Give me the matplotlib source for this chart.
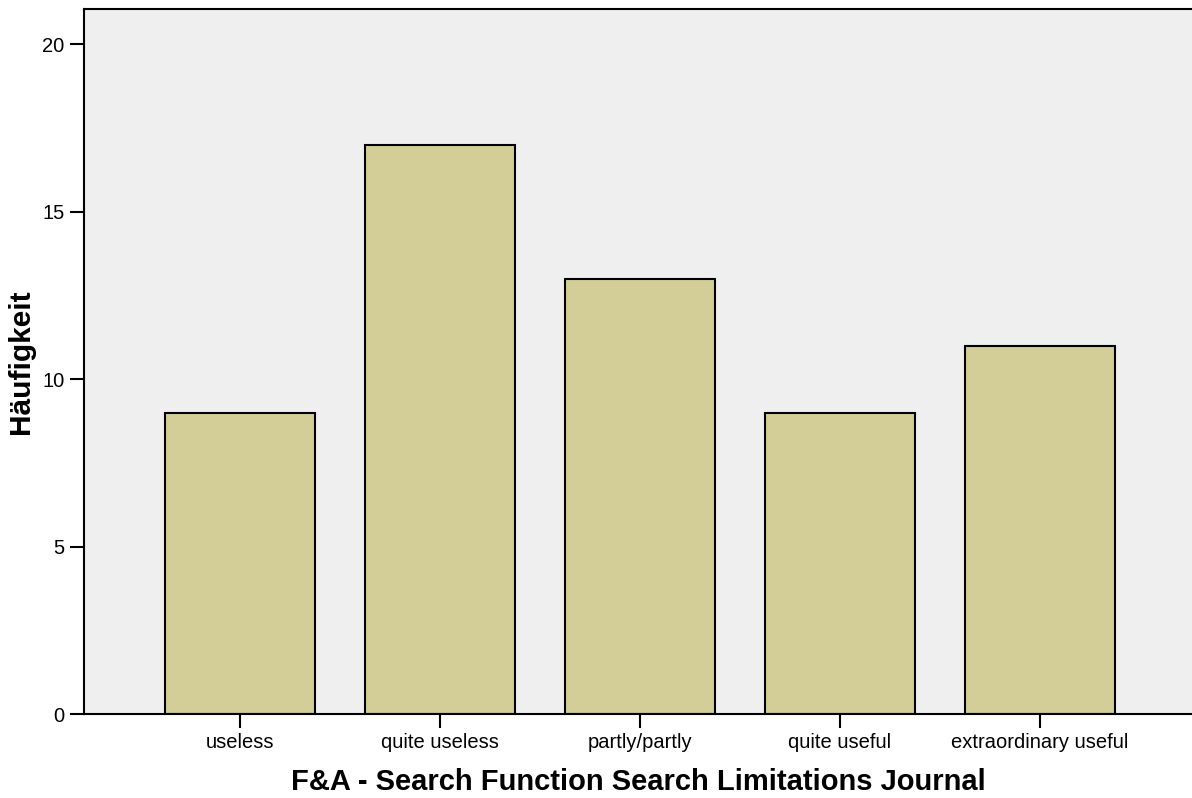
import matplotlib
matplotlib.use('Agg')
import matplotlib.pyplot as plt

categories = ['useless', 'quite useless', 'partly/partly', 'quite useful', 'extraordinary useful']
counts = [9, 17, 13, 9, 11]
y_ticks = [0, 5, 10, 15, 20]

plt.rcParams['font.family'] = ['Liberation Sans', 'DejaVu Sans']

fig = plt.figure(figsize=(11.92, 7.98), dpi=100)
ax = fig.add_axes([84 / 1192, 84 / 798, 1 - 84 / 1192, (714 - 9) / 798])
ax.set_facecolor('#efefef')

x = list(range(len(categories)))
ax.bar(x, counts, width=0.75, color='#d3ce97', edgecolor='black', linewidth=1.5, zorder=2)

ax.set_xlim(-0.78, 4.76)
ax.set_ylim(0, 21.05)
ax.set_xticks(x)
ax.set_xticklabels(categories, fontsize=14.5)
ax.set_yticks(y_ticks)
ax.set_yticklabels([str(t) for t in y_ticks], fontsize=14.5)
ax.tick_params(axis='both', length=10, width=1.5, pad=4)

ax.spines['right'].set_visible(False)
for s in ['left', 'top', 'bottom']:
    ax.spines[s].set_linewidth(1.5)

ax.set_xlabel('F&A - Search Function Search Limitations Journal', fontsize=21, fontweight='bold', labelpad=11)
ax.set_ylabel('Häufigkeit', fontsize=21.5, fontweight='bold', labelpad=5)

fig.savefig('out.png', dpi=100)
